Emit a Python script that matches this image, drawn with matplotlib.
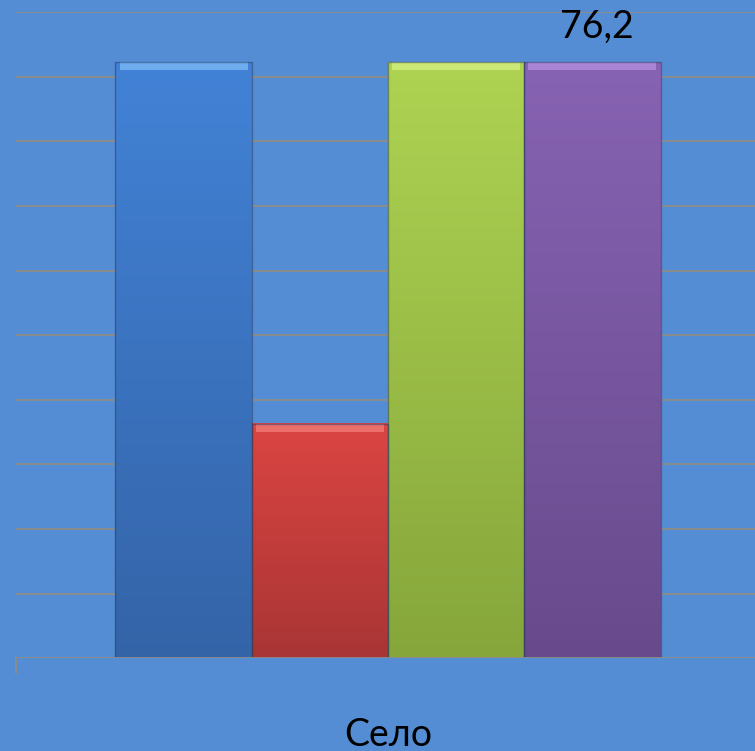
import numpy as np
import matplotlib.pyplot as plt
from matplotlib.colors import LinearSegmentedColormap
from matplotlib.patches import Rectangle

# данные
category = "Село"
series = ["Ряд 1", "Ряд 2", "Ряд 3", "Ряд 4"]
values = [76.2, 30.0, 76.2, 76.2]
labels = ["", "", "", "76,2"]

top_colors = ["#4282d6", "#db4542", "#aed352", "#8763b3"]
bottom_colors = ["#3464a8", "#a93535", "#86a63b", "#684a8c"]
light_colors = ["#7ab8f5", "#f07a76", "#d2ee7c", "#b48fe0"]

bg = "#558dd5"
ymax = 82.6

fig = plt.figure(figsize=(7.55, 7.51), dpi=100)
fig.patch.set_facecolor(bg)
ax = fig.add_axes([16 / 755, (751 - 658.3) / 751, 744 / 755, 646 / 751])
ax.set_facecolor(bg)

x = np.arange(len(values))
bars = ax.bar(x, values, width=1.0, color="none", edgecolor="none", zorder=3)

grad = np.linspace(0, 1, 256).reshape(-1, 1)
px_y = ymax / 646  # один пиксель по оси y
for i, b in enumerate(bars):
    x0, w, h = b.get_x(), b.get_width(), b.get_height()
    cmap = LinearSegmentedColormap.from_list("g", [bottom_colors[i], top_colors[i]])
    ax.imshow(grad, extent=[x0, x0 + w, 0, h], origin="lower", aspect="auto",
              cmap=cmap, zorder=3)
    # светлая фаска сверху
    ax.add_patch(Rectangle((x0 + 0.03, h - 8 * px_y), w - 0.06, 8 * px_y,
                           facecolor=light_colors[i], edgecolor="none", alpha=0.8, zorder=4))
    # тёмные края
    ax.add_patch(Rectangle((x0, 0), w, h, facecolor="none",
                           edgecolor="#2a3e60", linewidth=1.0, alpha=0.5, zorder=5))
    if labels[i]:
        ax.text(x[i] + 0.03, h + 18 * px_y, labels[i], ha="center", va="bottom",
                fontsize=27, family="Lato", color="black", zorder=6)

ax.set_xlim(-1.23, 4.23)
ax.set_ylim(0, ymax)
ax.set_yticks(np.linspace(0, ymax, 11))
ax.yaxis.grid(True, color="#8f8c88", linewidth=1.3, zorder=0)
ax.set_axisbelow(True)
ax.tick_params(axis="both", length=0, labelleft=False, labelbottom=False)
for s in ax.spines.values():
    s.set_visible(False)
ax.axhline(0, color="#8f8c88", linewidth=1.3, zorder=6)
ax.plot([-1.23, -1.23], [0, -15 * px_y], color="#8f8c88", linewidth=1.3, clip_on=False)

ax.text(1.5, -77 * px_y, category, ha="center", va="center", fontsize=27,
        family="Lato", color="black")

fig.savefig("out.png", dpi=100, facecolor=bg)
